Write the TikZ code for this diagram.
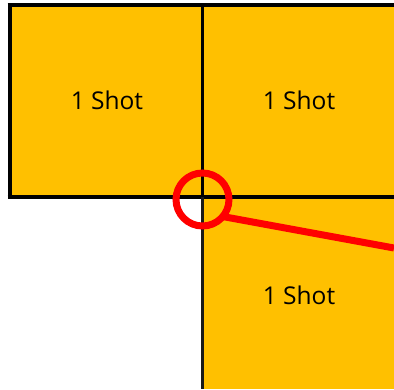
\documentclass[tikz,border=0pt]{standalone}
\usepackage{fontspec}
\setmainfont{Open Sans}
\definecolor{cellorange}{HTML}{FFC000}
\definecolor{ringred}{HTML}{FF0000}
\begin{document}
\begin{tikzpicture}[x=1pt,y=-1pt,
  cell/.style={fill=none, draw=none, inner sep=0pt, outer sep=0pt,
    font=\fontsize{24.5pt}{28pt}\selectfont, text=black},
  border/.style={line width=4pt, draw=black},
  ring/.style={circle, draw=ringred, line width=7pt, minimum size=53pt, inner sep=0pt, outer sep=0pt}]
\useasboundingbox (0,0) rectangle (394,389);
% cells
\fill[cellorange] (9.5,5) rectangle (202.5,197);
\fill[cellorange] (202.5,5) rectangle (394,197);
\fill[cellorange] (202.5,197) rectangle (394,389);
\node[cell] (a) at (107,100) {1 Shot};
\node[cell] (b) at (299,100) {1 Shot};
\node[cell] (c) at (299,295) {1 Shot};
% borders
\coordinate (tl) at (7.5,5);
\coordinate (tr) at (394,5);
\coordinate (ml) at (7.5,197);
\coordinate (mr) at (394,197);
\coordinate (lt) at (9.5,3);
\coordinate (lb) at (9.5,199);
\coordinate (vt) at (202.5,3);
\coordinate (vm) at (202.5,197);
\coordinate (vb) at (202.5,389);
\draw[border] (tl) -- (tr);
\draw[border] (lt) -- (lb);
\draw[border] (ml) -- (mr);
\draw[line width=3.5pt] (vt) -- (vm);
\draw[line width=2.5pt, draw=black!90] (vm) -- (vb);
% magnifier
\node[ring] (circ) at (202.5,199.5) {};
\coordinate (handle) at (394,248);
\draw[draw=ringred, line width=7pt] (circ.-40) -- (handle);
\end{tikzpicture}
\end{document}
